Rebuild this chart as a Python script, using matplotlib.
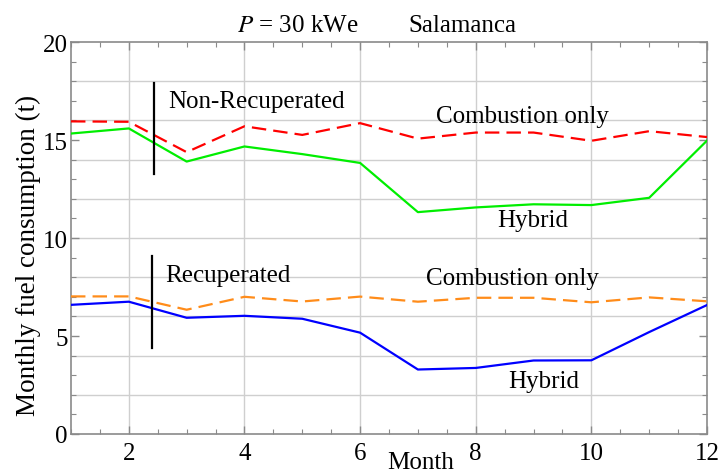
import matplotlib
matplotlib.use("Agg")
import matplotlib.pyplot as plt
from matplotlib.ticker import MultipleLocator, FixedLocator

months = [1, 2, 3, 4, 5, 6, 7, 8, 9, 10, 11, 12]

# Non-recuperated cycle (t)
nonrec_combustion = [15.95, 15.93, 14.38, 15.70, 15.26, 15.86, 15.07, 15.38, 15.38, 14.96, 15.45, 15.15]
nonrec_hybrid = [15.33, 15.59, 13.90, 14.67, 14.28, 13.83, 11.32, 11.56, 11.72, 11.68, 12.05, 14.97]

# Recuperated cycle (t)
rec_combustion = [7.02, 7.02, 6.34, 7.00, 6.76, 7.01, 6.75, 6.95, 6.95, 6.72, 6.97, 6.77]
rec_hybrid = [6.59, 6.75, 5.93, 6.03, 5.88, 5.17, 3.29, 3.37, 3.75, 3.76, 5.20, 6.58]

plt.rcParams["font.family"] = ["Liberation Serif", "DejaVu Serif"]
plt.rcParams["mathtext.fontset"] = "stix"

fig = plt.figure(figsize=(7.21, 4.77), dpi=100)
ax = fig.add_axes([71 / 721, 1 - 435 / 477, 636 / 721, 392 / 477])

frame = "#8a8a8a"
grid = "#cfcfcf"
fs = 18

ax.set_xlim(1, 12)
ax.set_ylim(0, 20)

# grid lines
for gx in [2, 4, 6, 8, 10]:
    ax.axvline(gx, color=grid, lw=1.0, zorder=0)
for gy in range(2, 20, 2):
    ax.axhline(gy, color=grid, lw=1.0, zorder=0)

dash = (0, (6.5, 3.2))
ax.plot(months, nonrec_combustion, color="#ff0000", lw=1.6, linestyle=dash, zorder=3)
ax.plot(months, nonrec_hybrid, color="#00ee00", lw=1.6, zorder=3)
ax.plot(months, rec_combustion, color="#ff8c1a", lw=1.6, linestyle=dash, zorder=3)
ax.plot(months, rec_hybrid, color="#0000ff", lw=1.6, zorder=3)

# group markers
ax.plot([2.44, 2.44], [13.27, 17.92], color="black", lw=1.6, zorder=4)
ax.plot([2.40, 2.40], [4.40, 9.08], color="black", lw=1.6, zorder=4)

ax.text(2.69, 16.68, "Non-Recuperated", fontsize=fs, ha="left", va="baseline")
ax.text(8.80, 15.92, "Combustion only", fontsize=fs, ha="center", va="baseline")
ax.text(8.98, 10.60, "Hybrid", fontsize=fs, ha="center", va="baseline")
ax.text(2.63, 7.80, "Recuperated", fontsize=fs, ha="left", va="baseline")
ax.text(8.63, 7.65, "Combustion only", fontsize=fs, ha="center", va="baseline")
ax.text(9.17, 2.40, "Hybrid", fontsize=fs, ha="center", va="baseline")

# frame and ticks
for s in ax.spines.values():
    s.set_color(frame)
    s.set_linewidth(1.2)
ax.xaxis.set_major_locator(FixedLocator([2, 4, 6, 8, 10, 12]))
ax.xaxis.set_minor_locator(MultipleLocator(0.5))
ax.yaxis.set_major_locator(MultipleLocator(5))
ax.yaxis.set_minor_locator(MultipleLocator(1))
ax.tick_params(which="both", direction="in", top=True, right=True, color=frame,
               labelsize=fs, labelcolor="black")
ax.tick_params(which="major", length=6, width=1.0)
ax.tick_params(which="minor", length=3.5, width=0.8)
ax.tick_params(axis="x", which="major", pad=6)
ax.tick_params(axis="y", which="major", pad=2.5)

ax.set_xlabel("Month", fontsize=fs)
ax.xaxis.set_label_coords(0.549, -0.086)
ax.xaxis.label.set_va("baseline")
ax.set_ylabel("Monthly fuel consumption (t)", fontsize=19.5)
ax.yaxis.set_label_coords(-0.067, 0.457)
ax.yaxis.label.set_va("center")

fig.text(298 / 721, 1 - 32 / 477, r"$P$ = 30 kWe", fontsize=fs, ha="center", va="baseline")
fig.text(462 / 721, 1 - 32 / 477, "Salamanca", fontsize=fs, ha="center", va="baseline")

fig.savefig("out.png", dpi=100)
